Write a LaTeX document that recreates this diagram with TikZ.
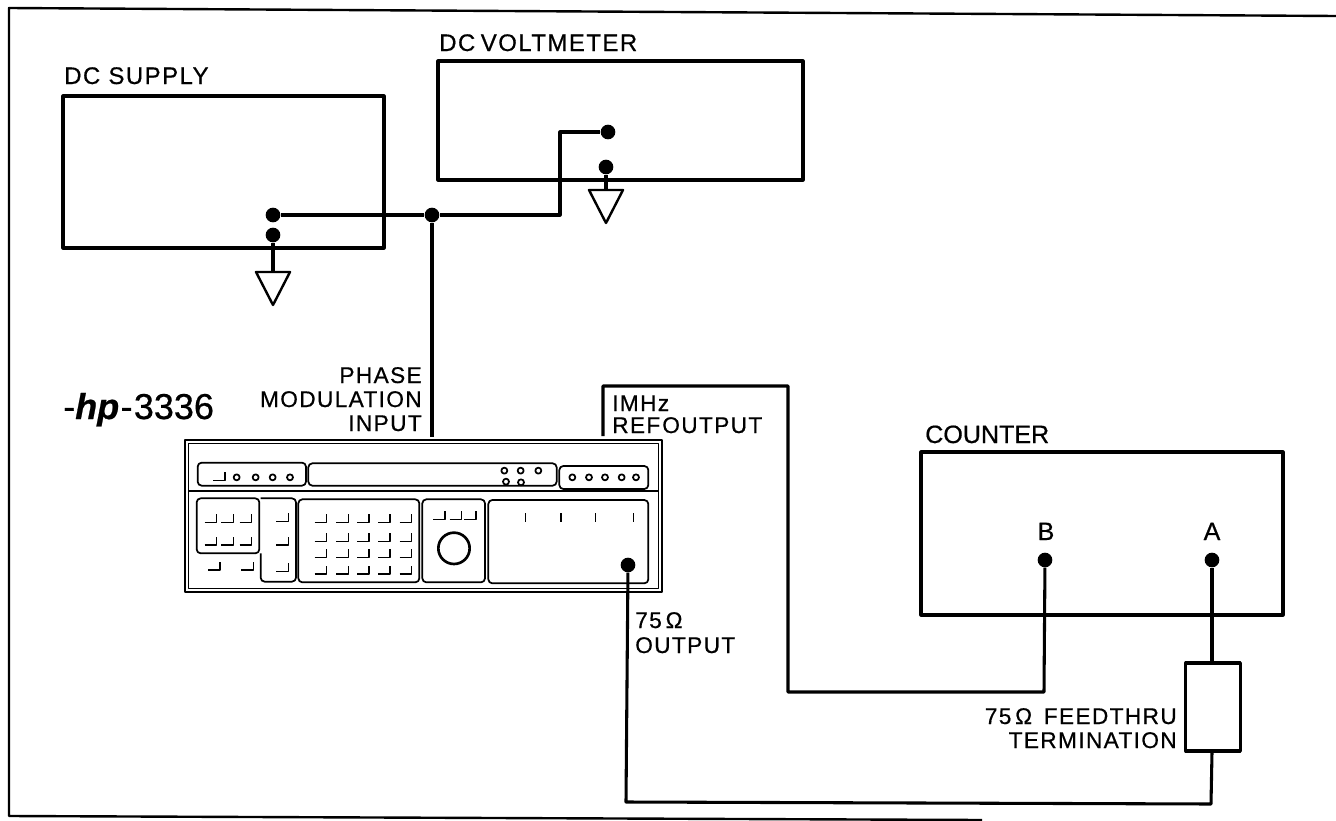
\documentclass[tikz,border=0pt]{standalone}
\usepackage{fontspec}
\setmainfont{Liberation Sans}
\newfontfamily\lblfont[LetterSpace=6,FakeBold=0.6]{Liberation Sans}
\newfontfamily\topfont[FakeBold=0.6]{Liberation Sans}
\newfontfamily\hpfont[FakeBold=0.6]{Liberation Sans}
\begin{document}
\begin{tikzpicture}[x=0.75pt,y=-0.75pt,line join=round,
  wire/.style={line width=2.3pt},
  box/.style={draw,line width=2.3pt,minimum width=0pt,inner sep=0pt,rectangle},
  dotmark/.style={circle,fill=black,draw=none,minimum size=11pt,inner sep=0pt},
  lbl/.style={inner sep=0pt,font=\lblfont\fontsize{17}{17}\selectfont},
  biglbl/.style={inner sep=0pt,font=\lblfont\fontsize{18}{18}\selectfont},
  toplbl/.style={inner sep=0pt,font=\topfont\fontsize{18.8}{18.8}\selectfont},
  panel/.style={line width=1.3pt,rounded corners=3pt},
  thin key/.style={line width=1.2pt},
  lamp/.style={line width=1.3pt}]
\useasboundingbox (0,0) rectangle (1336,821);
\fill[white] (0,0) rectangle (1336,821);
\draw[line width=1.8pt] (1336,16) -- (9,8) -- (9,816) -- (982,820);

% instruments
\draw[wire] (63,96) rectangle (384,248);
\draw[wire] (438,61) rectangle (803,180);
\draw[wire] (921,452) rectangle (1283,615);
\node[box,minimum width=41pt,minimum height=66pt] (term) at (1213,707) {};

% labels
\node[biglbl,anchor=base west] (l1) at (64,84) {DC SUPPLY};
\node[biglbl,anchor=base west] (l2) at (439,51) {DC\hspace{-2pt} VOLTMETER};
\node[toplbl,anchor=base west] (l3) at (925,443) {COUNTER};
\node[toplbl,anchor=base] (lb) at (1046,540) {B};
\node[toplbl,anchor=base] (la) at (1212,540) {A};
\node[lbl,anchor=base east] (p1) at (422,383) {PHASE};
\node[lbl,anchor=base east] (p2) at (422,407) {MODULATION};
\node[lbl,anchor=base east] (p3) at (422,431) {INPUT};
\node[inner sep=0pt,anchor=base west,font=\hpfont\fontsize{27}{27}\selectfont] (hp) at (63,419) {-\textit{\textbf{hp}}\hspace{1pt}-\hspace{1pt}3336};
\node[lbl,anchor=base west] (r1) at (612,411) {IMHz};
\node[lbl,anchor=base west] (r2) at (612,433) {REF\hspace{1.5pt}OUTPUT};
\node[lbl,anchor=base west] (o1) at (635,628) {75\,Ω};
\node[lbl,anchor=base west] (o2) at (635,653) {OUTPUT};
\node[lbl,anchor=base east] (t1) at (1177,724) {75\,Ω\hspace{3pt} FEEDTHRU};
\node[lbl,anchor=base east] (t2) at (1177,748) {TERMINATION};

% terminals
\node[dotmark] (ds1) at (273,215) {};
\node[dotmark] (ds2) at (273,235) {};
\node[dotmark] (j) at (432,215) {};
\node[dotmark] (dv1) at (608,132) {};
\node[dotmark] (dv2) at (606,167) {};
\node[dotmark] (cb) at (1045,560) {};
\node[dotmark] (ca) at (1212,560) {};
\node[dotmark] (out) at (628,565) {};
\coordinate (pm) at (432,437);
\coordinate (ref) at (603,436);
\coordinate (g1) at (273,272);
\coordinate (g2) at (606,190);

% wires
\draw[wire] (ds1) -- (j) -- (560,215) -- (560,132) -- (dv1);
\draw[wire] (j) -- (pm);
\draw[wire] (ds2) -- (g1);
\draw[wire] (dv2) -- (g2);
\draw[wire] (ref) -- (603,386) -- (788,386) -- (788,692) -- (1044,692) -- (cb);
\draw[wire] (ca) -- (term.north -| ca);
\draw[wire] (term.south -| ca) -- (1211,804) -- (626,802) -- (out);

% grounds
\draw[line width=1.8pt] (256,272) -- (290,272) -- (273,305) -- cycle;
\draw[line width=1.8pt] (589,190) -- (623,190) -- (606,223) -- cycle;

% front panel drawn in zoom-crop units
\begin{scope}[shift={(170,420)},x=0.25pt,y=-0.25pt]
\draw[line width=1.5pt] (45,60) rectangle (1475,515);
\draw[line width=1.2pt] (55,70) rectangle (1465,505);
\draw[line width=1.3pt] (55,212) -- (1465,212);
\draw[panel] (83,128) rectangle (408,197);
\draw[panel] (415,130) rectangle (1160,197);
\draw[panel] (1168,138) rectangle (1435,207);
\draw[panel] (80,235) rectangle (268,400);
\draw[panel] (272,235) -- (378,235) -- (378,485) -- (272,485) -- (272,400);
\draw[panel] (385,238) rectangle (748,487);
\draw[panel] (757,238) rectangle (945,487);
\draw[panel] (955,240) rectangle (1435,490);
\foreach \px/\py in {200/172,257/172,308/172,360/172,1003/152,1052/152,1105/152,1008/185,1053/187,1207/172,1257/172,1305/172,1355/172,1398/172}
  \draw[lamp] (\px,\py) circle[radius=9];
\foreach \px/\py in {165/182,140/308,190/308,245/308,140/375,190/375,245/375,150/450,250/450,355/305,355/375,355/455,
  470/308,535/308,597/308,660/308,725/308,470/365,535/365,597/365,660/365,725/365,
  470/412,535/412,597/412,660/412,725/412,470/462,535/462,597/462,660/462,725/462,825/298,875/298,918/298}
  \draw[thin key] (\px-36,\py) -- (\px,\py) -- (\px,\py-25);
\foreach \px in {1067,1173,1277,1390}
  \draw[thin key] (\px,280) -- (\px,305);
\draw[line width=2pt] (852,385) circle[radius=47];
\end{scope}
\end{tikzpicture}
\end{document}
